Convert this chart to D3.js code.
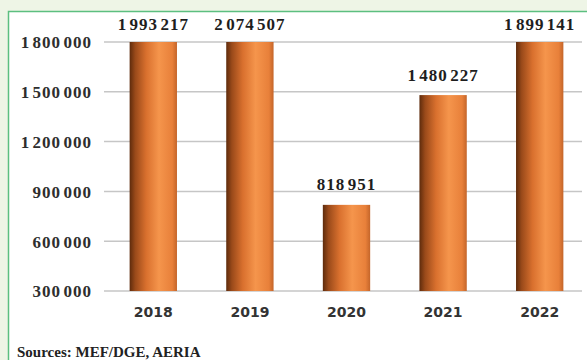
<!DOCTYPE html>
<html>
<head>
<meta charset="utf-8">
<script src="https://cdn.jsdelivr.net/npm/d3@7"></script>
<style>
  body { margin: 0; background: #eef5e6; }
  svg { display: block; }
</style>
</head>
<body>
<div id="chart"></div>
<script>
const years = ['2018', '2019', '2020', '2021', '2022'];
const values = [1993217, 2074507, 818951, 1480227, 1899141];
const yTicks = [300000, 600000, 900000, 1200000, 1500000, 1800000];
const source = 'Sources: MEF/DGE, AERIA';

const W = 587, H = 360;
const SERIF = '"Liberation Serif", Cambria, serif';
const fr = d3.formatLocale({ decimal: ',', thousands: '\u200A', grouping: [3], currency: ['', ''] });
const fmt = fr.format(',d');

const svg = d3.select('#chart').append('svg')
   .attr('width', W)
   .attr('height', H);

const defs = svg.append('defs');
const grad = defs.append('linearGradient')
   .attr('id', 'barGrad')
   .attr('x1', '0%').attr('x2', '100%')
   .attr('y1', '0%').attr('y2', '0%');
[[0, '#5e2b0c'], [0.12, '#9a4a1a'], [0.35, '#d9702e'], [0.62, '#f5954c'], [0.9, '#e8803a'], [1, '#c4652a']]
   .forEach(s => grad.append('stop').attr('offset', s[0]).attr('stop-color', s[1]));

// panel
svg.append('rect')
   .attr('x', 8.5).attr('y', 11.5)
   .attr('width', W + 10).attr('height', H)
   .attr('fill', '#fff')
   .attr('stroke', '#5cbf80')
   .attr('stroke-width', 1.5);

const x = d3.scaleBand()
   .domain(years)
   .range([105, 588])
   .paddingInner(0.51)
   .paddingOuter(0.255);

const y = d3.scaleLinear()
   .domain([300000, 1800000])
   .range([291, 42])
   .clamp(true);

// grid
svg.append('g').selectAll('line')
   .data(yTicks)
   .join('line')
   .attr('x1', 104).attr('x2', 582)
   .attr('y1', d => y(d)).attr('y2', d => y(d))
   .attr('stroke', '#c6c6c6')
   .attr('stroke-width', 1.5);

// y axis labels
const yAxis = d3.axisLeft(y).tickValues(yTicks).tickFormat(fmt).tickSize(0).tickPadding(0);
const yg = svg.append('g')
   .attr('transform', 'translate(92,0)')
   .call(yAxis);
yg.select('.domain').remove();
yg.selectAll('text')
   .attr('font-family', SERIF)
   .attr('font-weight', 'bold')
   .attr('font-size', 17)
   .attr('letter-spacing', 1)
   .attr('fill', '#2e2e2e')
   .attr('dy', '0.35em');

// bars
svg.append('g').selectAll('rect')
   .data(years)
   .join('rect')
   .attr('x', d => x(d))
   .attr('width', x.bandwidth())
   .attr('y', (d, i) => y(values[i]))
   .attr('height', (d, i) => y(300000) - y(values[i]))
   .attr('fill', 'url(#barGrad)');

// value labels
svg.append('g').selectAll('text')
   .data(years)
   .join('text')
   .attr('x', d => x(d) + x.bandwidth() / 2)
   .attr('y', (d, i) => values[i] > 1800000 ? y(values[i]) - 12 : y(values[i]) - 14.5)
   .attr('text-anchor', 'middle')
   .attr('font-family', SERIF)
   .attr('font-weight', 'bold')
   .attr('font-size', 17)
   .attr('letter-spacing', 1)
   .attr('fill', '#1e1e1e')
   .text((d, i) => fmt(values[i]));

// x axis labels
const xAxis = d3.axisBottom(x).tickSize(0).tickPadding(0);
const xg = svg.append('g')
   .attr('transform', 'translate(0,312)')
   .call(xAxis);
xg.select('.domain').remove();
xg.selectAll('text')
   .attr('font-family', '"DejaVu Sans", Verdana, sans-serif')
   .attr('font-weight', 'bold')
   .attr('font-size', 14)
   .attr('fill', '#333')
   .attr('dy', '0.35em');

svg.append('text')
   .attr('x', 17)
   .attr('y', 357)
   .attr('font-family', SERIF)
   .attr('font-weight', 'bold')
   .attr('font-size', 15)
   .attr('fill', '#222')
   .text(source);
</script>
</body>
</html>
